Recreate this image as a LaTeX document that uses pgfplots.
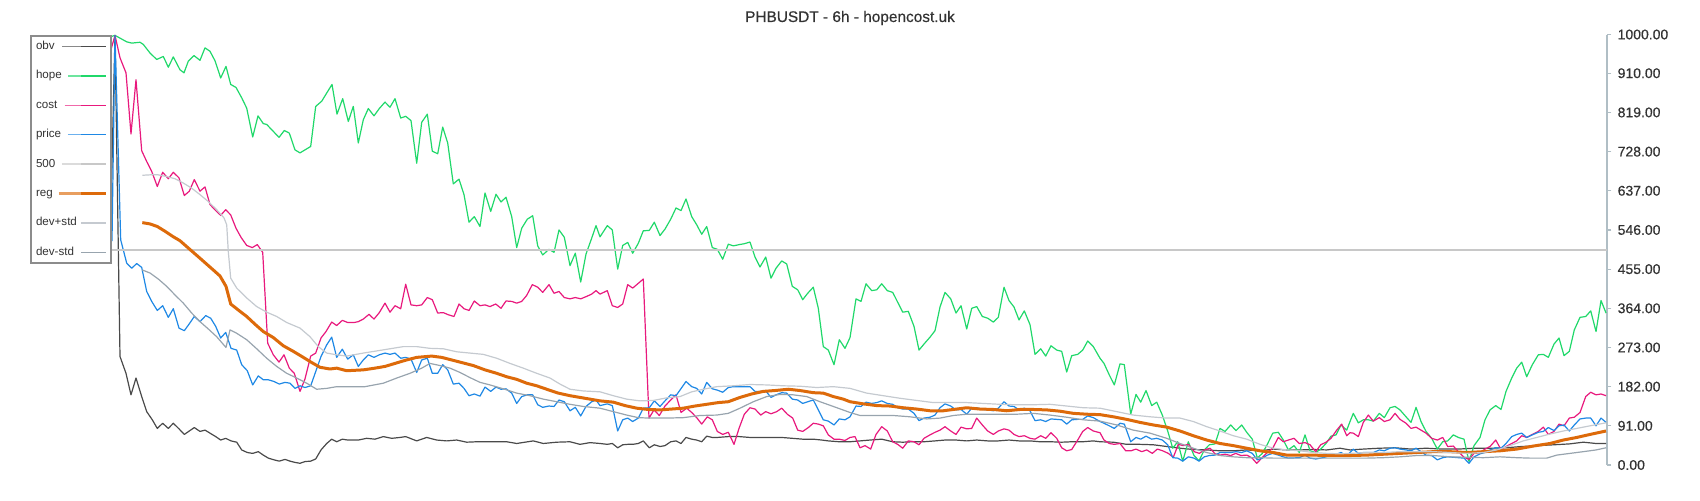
\documentclass[border=0pt]{standalone}
\usepackage{pgfplots}
\pgfplotsset{compat=1.18}
\usepackage{fontspec}
\setmainfont{Liberation Sans}
\newfontfamily\medfont[BoldFont=Liberation Sans, BoldFeatures={FakeBold=0.5}]{Liberation Sans}
\definecolor{cobv}{HTML}{4A4A4A}
\definecolor{chope}{HTML}{20D86A}
\definecolor{ccost}{HTML}{E8197D}
\definecolor{cprice}{HTML}{1E88E5}
\definecolor{cfive}{HTML}{C8C8C8}
\definecolor{creg}{HTML}{DD6A0A}
\definecolor{cdevp}{HTML}{C5CAD0}
\definecolor{cdevm}{HTML}{98A4AE}
\definecolor{caxis}{HTML}{B0BEC5}
\definecolor{ctext}{HTML}{333333}
\pgfplotsset{leg/.style={legend image code/.code={\path (0pt,0pt) -- (12.5pt,0pt);\draw[##1, draw opacity=0.65, overlay] (-#1,0pt) -- (10pt,0pt);}}}
\begin{document}
\begin{tikzpicture}
\path[use as bounding box] (-15pt,-17.5pt) rectangle (835pt,232.5pt);
\begin{axis}[
  at={(0,0)}, anchor=south west,
  scale only axis, width=788.5pt, height=215.25pt,
  xmin=30, xmax=1607, ymin=0, ymax=1000,
  axis x line=none, axis y line=right,
  axis line style={-, color=caxis, line width=0.75pt},
  ytick={0,91,182,273,364,455,546,637,728,819,910,1000},
  scaled y ticks=false,
  tick align=outside, major tick length=2.2pt,
  ytick style={color=caxis, line width=0.6pt},
  yticklabel={\pgfmathprintnumber[fixed,fixed zerofill,precision=2,1000 sep={},assume math mode=true]{\tick}},
  yticklabel style={font=\medfont\bfseries\fontsize{7}{8}\selectfont, text=ctext, anchor=west, xshift=-0.4pt},
  legend plot pos=right,
  legend cell align=left,
  legend style={at={(rel axis cs:0,1)}, anchor=north west, draw=black!45, line width=1pt, fill=white,
    font=\fontsize{5.8}{6.5}\selectfont, text=ctext, inner sep=1.5pt, row sep=6.7pt, column sep=0.4pt,
    nodes={inner sep=1pt, text height=4.5pt, text depth=1.5pt}},
  every axis plot/.append style={line join=round},
]
\addplot[cobv, line width=0.6pt, leg=9.5pt] coordinates {
(111,600)(115,998)(120,252)(126,213)(131,163)(136,202)(141.7,159)(146.7,124)(152.3,105)(157.3,85)(162.7,97)(168.3,85)(173.3,97)(179,84)(184.3,71)(189.3,79)(194.3,87)(200,78)(205,81)(210,74)(215.7,66)(220.7,58)(225.7,62)(231,56)(236.7,53)(241.7,35)(247.3,29)(252.7,27)(258.3,31)(263.3,23)(268.3,16)(274,12)(279.3,9)(285,13)(290,9)(295,6)(300,4)(305,8)(310.7,9)(315.7,14)(321,35)(326.7,50)(331.7,60)(336.7,54)(342.3,60)(347.7,58)
(358.3,58)(366.7,62)(375,60)(383.3,66)(391.7,62)(400,64)(405.7,66)(416.7,56)(426.7,64)(436.7,58)(446.7,56)(456.7,58)(466.7,53)(476.7,54)(486.7,54)(496.7,54)(506.7,54)(516.7,50)(533.3,56)(543.3,50)(556.7,53)(570,54)(580,48)(590,52)(600,50)
(607.3,48)(612.3,50)(617.7,40)(622.7,47)(627.7,48)(632.7,48)(638.3,50)(643.3,56)(649.3,40)(654.3,47)(660,43)(665,45)(670.7,54)(676,56)(681,50)(686,64)(691.7,60)(696.7,58)(701.7,54)(706.7,67)(712.3,64)(717.3,64)(728.3,66)(739.3,66)(750,64)(760,64)(771,64)(781.7,64)(792.3,62)(802.7,60)(813.3,60)(821.7,58)(828.3,56)(839.3,54)(850,54)
(860,56)(870,58)(881.7,60)(892.7,54)(902.7,53)(913.3,54)(924,54)(935,56)(945,58)(956,58)(966.7,56)(976.7,58)(987.7,56)(998.3,56)(1009,58)(1019,56)(1030,56)(1040,54)(1051,54)(1061.7,53)(1071.7,54)(1082.7,54)(1093.3,56)(1100,54)
(1113.3,53)(1126.7,48)(1140,48)(1153.3,47)(1166.7,43)(1180,39)(1193.3,36)(1206.7,35)(1220,33)(1233.3,33)(1246.7,35)(1260,33)(1273.3,37)(1286.7,35)(1300,35)(1313.3,36)(1326.7,35)(1340,39)(1350,35)
(1363.3,37)(1379.3,39)(1395,40)(1411,37)(1426,39)(1442.7,37)(1458.3,37)(1474,39)(1490,39)(1506,40)(1521.7,43)(1538.3,45)(1554,47)(1569.3,49)(1583.3,53)(1596,50)(1606,50)
};
\addlegendentry{obv}
\addplot[chope, line width=0.6pt, leg=6.5pt] coordinates {
(111,995)(115,998)(126.7,983)(131.7,980)(140,982)(143.3,977)(150,957)(156.7,942)(163.3,949)(168.3,924)(173.3,948)(180,918)(184,911)(188.3,938)(194,951)(200,940)(205,969)(210,961)(215,939)(220.7,899)(226,926)(230.7,884)(236,877)(241.7,853)(246.7,829)(252.7,762)(258,811)(263.3,793)(266.7,791)(273.3,775)(279,761)(284.3,777)(289.3,771)(295,732)(300,725)(305,732)(310.7,740)(315.7,833)(321.7,845)(326.7,864)(332,884)(337,815)(342.7,851)(348.3,798)
(353.3,833)(358.3,748)(363.3,802)(368.3,828)(374,811)(379.3,828)(385,843)(390,831)(395,851)(400.7,806)(405.7,810)(411,800)(416.7,701)(421.7,796)(427.3,815)(432.3,729)(437.7,723)(442.7,785)(447.7,748)(453.3,653)(459,664)(464,628)(469,564)(474.3,577)(480,554)(485,632)(490.7,589)(496,629)(501,611)(506,622)(511.7,577)(516.7,505)(521.7,550)(527.3,571)(532.7,579)(537.7,509)(542.7,488)(549,501)(554,494)(559,546)(564.3,529)(570,463)(575.3,492)(580.7,425)(586,490)(591.7,527)(596,556)(600,530)
(607.3,556)(612.3,546)(617.7,455)(622.7,510)(627.7,517)(632.7,492)(638.3,515)(643.3,544)(649.3,545)(654.3,564)(660,533)(665,548)(670.7,571)(676,597)(681,591)(686,618)(691.7,577)(696.7,558)(701.7,536)(706.7,554)(712.3,505)(717.3,501)(722.7,478)(728.3,513)(733.3,509)(739.3,512)(744.3,514)(750,518)(755,483)(760,460)(765.7,483)(771,434)(776,457)(781.7,474)(786.7,467)(792.3,415)(797.7,407)(802.7,384)(807.7,399)(813.3,413)(818.3,364)(823.3,275)(828.3,267)(834,233)(839.3,291)(845,271)(850,296)
(856,386)(861,380)(866,421)(871.7,405)(876.7,407)(881.7,421)(887.3,405)(892.7,401)(897.7,378)(902.7,355)(908.3,357)(914,322)(919,267)(924,281)(930,297)(935,312)(940,367)(945,401)(950.7,386)(956,353)(961,370)(966.7,316)(971.7,364)(976.7,368)(982.3,345)(987.7,341)(993.3,332)(998.3,343)(1004,413)(1009,382)(1014,367)(1019,337)(1024.3,358)(1030,326)(1035,257)(1040.7,270)(1045.7,253)(1051,277)(1056.7,267)(1061.7,264)(1066.7,216)(1071.7,254)(1077.7,257)(1082.7,267)(1087.7,288)(1093.3,275)(1100,248)
(1104,236)(1109.3,209)(1114.3,186)(1120,235)(1124.3,233)(1130.7,118)(1136,164)(1140.7,146)(1146,173)(1151.7,138)(1156.7,146)(1162.3,116)(1167.7,79)(1172.7,39)(1177.7,54)(1182.7,9)(1188.3,54)(1194,22)(1199,10)(1204.3,35)(1209.3,47)(1215,49)(1220,85)(1225,78)(1230.7,93)(1236,80)(1241.7,93)(1246.7,76)(1252.3,60)(1257.3,16)(1262.3,27)(1267.3,48)(1272.7,74)(1278.3,76)(1283.3,58)(1288.3,35)(1294,45)(1299.3,29)(1305,70)(1310,33)(1315.7,29)(1320.7,37)(1326,50)(1331,67)(1336,70)(1341,93)(1346.7,81)(1350,101)
(1353.3,120)(1358.3,98)(1363.3,105)(1368.3,105)(1373.3,102)(1379.3,120)(1384.3,110)(1390,133)(1395,136)(1400,128)(1406,112)(1411,99)(1416,134)(1421,101)(1426,78)(1431.7,62)(1437.3,37)(1442.7,54)(1447.7,56)(1453.3,70)(1458.3,64)(1464,60)(1469,8)(1474,45)(1480,64)(1485,105)(1490,128)(1495.7,138)(1501,129)(1506,171)(1511.7,202)(1516.7,225)(1521.7,239)(1526.7,205)(1532.3,233)(1538.3,256)(1543.3,257)(1548.3,250)(1554,281)(1559,295)(1564,254)(1569.3,264)(1574.3,314)(1580,343)(1585.7,345)(1590.7,358)(1596,310)(1601,382)(1606,353)
};
\addlegendentry{hope}
\addplot[ccost, line width=0.6pt, leg=8.3pt] coordinates {
(111,965)(115,998)(120,946)(126,911)(131,769)(136,895)(141.7,730)(146.7,705)(151.7,682)(157.3,647)(162.7,680)(168.3,665)(173.3,680)(179,667)(184.3,626)(189.3,636)(194.3,663)(200,636)(205,646)(210,605)(215.7,591)(220.7,580)(225.7,593)(230.7,581)(236,550)(241,529)(246.7,510)(252.3,505)(257.3,512)(262.7,494)(267.7,283)(273.3,256)(279,239)(284,256)(289.3,225)(294.3,213)(300,171)(305,200)(310.7,253)(315.7,260)(321,295)(326,310)(331.7,332)(336.7,324)(342.3,336)(347.7,331)
(354,331)(358.3,333)(363.3,339)(369,350)(374,339)(379.3,354)(385,376)(390,355)(395,370)(400.7,363)(405.7,420)(411,372)(416.7,370)(421.7,372)(427.3,389)(432.3,384)(437.7,353)(443.3,354)(448.3,349)(454,345)(459,374)(464,363)(469,359)(474.3,381)(480,370)(485,372)(490,368)(495.7,374)(501,364)(506,381)(511.7,380)(516.7,376)(521.7,380)(526.7,394)(532.3,419)(537.7,413)(542.7,401)(549,419)(554,399)(559,403)(564.3,389)(570,386)(575.3,389)(580.7,386)(586,391)(591.7,397)(596,405)(600,397)
(607.3,405)(612.3,370)(617.7,366)(622.7,374)(627.7,419)(632.7,411)(638.3,422)(643.3,432)(649,109)(654,128)(659.3,115)(665,137)(670.7,151)(676,163)(681,122)(686.7,132)(691.7,122)(696.7,110)(701.7,95)(707.3,112)(712.3,105)(717.3,78)(722.7,71)(728.3,76)(734,48)(739,85)(744.3,118)(750,133)(755,130)(760.7,116)(765.7,124)(771,119)(776.7,124)(781.7,132)(787.3,118)(792.7,109)(797.7,81)(802.7,78)(808.3,87)(813.3,97)(818.3,95)(823.3,91)(828.3,70)(834,60)(839.3,60)(845,57)(850,64)
(855,66)(860,40)(865,45)(870.7,37)(876,71)(881.7,89)(887.3,79)(892.7,54)(897.7,48)(902.7,39)(908.3,56)(914,54)(919,47)(924,62)(930,70)(935,76)(940,81)(945,89)(950.7,79)(956,71)(961,88)(966.7,84)(971.7,85)(976.7,109)(982.3,93)(987.7,79)(993.3,71)(998.3,79)(1004,84)(1009,81)(1014,71)(1019,66)(1024.3,68)(1030,62)(1035,60)(1040.7,68)(1045.7,62)(1051,75)(1056.7,62)(1061.7,40)(1066.7,33)(1071.7,36)(1077.7,58)(1082.7,78)(1087.7,87)(1093.3,79)(1100,75)
(1104,58)(1109.3,50)(1114.3,48)(1120,50)(1125.7,33)(1131,33)(1136,37)(1141.7,31)(1146.7,35)(1152.3,27)(1157.3,37)(1162.7,33)(1168.3,27)(1173.3,18)(1178.3,48)(1183.3,45)(1188.3,48)(1194.3,31)(1199.3,27)(1204.3,35)(1210,39)(1215,26)(1220,23)(1225,25)(1230.7,22)(1235.7,27)(1241,22)(1246.7,23)(1251.7,17)(1256.7,4)(1261.7,16)(1267.3,29)(1272.7,39)(1278.3,64)(1283.3,54)(1288.3,58)(1294,62)(1299.3,50)(1305,52)(1310,47)(1315.7,31)(1320.7,47)(1326,53)(1331,62)(1336.7,81)(1341.7,95)(1346.7,68)(1350,75)
(1353.3,74)(1358.3,66)(1363.3,99)(1368.3,116)(1373.3,102)(1379.3,110)(1384.3,101)(1390,105)(1395,120)(1400,106)(1406,97)(1411,85)(1416,88)(1421,81)(1426,74)(1431.7,62)(1437.3,58)(1442.7,64)(1447.7,43)(1453.3,44)(1458.3,31)(1464,18)(1469,13)(1474,27)(1480,29)(1485,37)(1490,43)(1495.7,58)(1501,36)(1506,43)(1511.7,50)(1516.7,56)(1521.7,68)(1526.7,64)(1532.3,71)(1538.3,78)(1543.3,88)(1548.3,71)(1554,78)(1559,95)(1564,91)(1569.3,109)(1574.3,111)(1580,122)(1585.7,159)(1590.7,169)(1596,163)(1601,165)(1606,161)
};
\addlegendentry{cost}
\addplot[cprice, line width=0.6pt, leg=6.7pt] coordinates {
(112,520)(115,998)(120.7,523)(126.7,469)(131.7,457)(136.7,468)(141.7,459)(146.7,403)(151.7,380)(157.3,359)(162.7,370)(168.3,343)(173.3,363)(179,318)(184.3,312)(189.3,328)(194.3,345)(200,333)(205.7,347)(210.7,341)(215.7,322)(220.7,295)(225.7,308)(231,271)(236.7,267)(241.7,233)(247.3,219)(252.7,186)(258.3,207)(263.3,198)(268.3,198)(274,194)(279.3,188)(285,192)(290,190)(295,178)(300,184)(305,180)(310.7,184)(315.7,217)(321,252)(326.7,279)(331.7,297)(336.7,250)(342.3,269)(347.7,246)
(353.3,256)(358.3,229)(363.3,244)(368.3,256)(374,250)(379.3,256)(385,260)(390,257)(395,260)(400.7,248)(405.7,250)(411,246)(416.7,215)(421.7,244)(427.3,248)(432.3,213)(437.7,213)(442.7,233)(447.7,221)(453.3,188)(459,190)(464,178)(469,161)(474.3,165)(480,160)(485,181)(490.7,171)(496,181)(501,176)(506,177)(511.7,167)(516.7,143)(521.7,159)(527.3,163)(532.7,163)(537.7,140)(542.7,134)(549,137)(554,136)(559,151)(564.3,147)(570,126)(575.3,134)(580.7,114)(586,136)(591.7,147)(596,151)(600,138)
(607.3,142)(612.3,138)(617.7,79)(622.7,105)(627.7,109)(632.7,101)(638.3,109)(643.3,132)(649.3,133)(654.3,149)(660,136)(665,149)(670.7,163)(676,161)(686,194)(691.7,182)(696.7,178)(701.7,165)(706.7,192)(712.3,177)(717.3,174)(722.7,169)(728.3,180)(733.3,182)(744.3,182)(750,182)(755,171)(760,171)(765.7,172)(771,157)(776,163)(781.7,168)(786.7,167)(792.3,153)(797.7,151)(802.7,143)(807.7,147)(813.3,151)(818.3,128)(823.3,105)(828.3,102)(834,93)(839.3,107)(845,105)(850,112)
(856,137)(861,136)(866,146)(871.7,143)(876.7,145)(881.7,149)(887.3,143)(892.7,141)(897.7,133)(902.7,130)(908.3,130)(914,120)(919,103)(924,109)(930,111)(935,116)(940,133)(945,142)(950.7,137)(956,128)(961,129)(966.7,118)(971.7,132)(976.7,133)(982.3,129)(987.7,128)(993.3,126)(998.3,132)(1004,147)(1009,137)(1014,136)(1019,128)(1024.3,132)(1030,126)(1035,103)(1040.7,105)(1045.7,101)(1051,107)(1056.7,106)(1061.7,105)(1066.7,95)(1071.7,105)(1077.7,106)(1082.7,106)(1087.7,114)(1093.3,110)(1100,101)
(1104,97)(1109.3,91)(1114.3,85)(1120,97)(1124.3,95)(1130.7,54)(1136,64)(1140.7,60)(1146,67)(1151.7,60)(1156.7,62)(1162.3,58)(1167.7,47)(1172.7,17)(1177.7,16)(1182.7,9)(1188.3,19)(1194,16)(1199,9)(1204.3,19)(1209.3,22)(1215,23)(1220,29)(1230.7,29)(1236,31)(1241.7,29)(1246.7,33)(1252.3,27)(1257.3,12)(1262.3,16)(1267.3,23)(1272.7,27)(1278.3,23)(1283.3,19)(1288.3,16)(1299.3,17)(1305,23)(1310,16)(1315.7,14)(1320.7,16)(1326,19)(1331,23)(1336,25)(1341,29)(1346.7,22)(1350,29)
(1353.3,37)(1358.3,27)(1363.3,29)(1368.3,29)(1373.3,29)(1379.3,35)(1384.3,33)(1390,39)(1395,40)(1400,37)(1406,35)(1411,33)(1416,39)(1421,31)(1426,23)(1431.7,22)(1437.3,12)(1442.7,17)(1447.7,19)(1453.3,18)(1458.3,17)(1464,16)(1469,4)(1474,19)(1480,26)(1485,29)(1490,35)(1495.7,40)(1501,39)(1506,50)(1511.7,66)(1516.7,71)(1521.7,74)(1526.7,64)(1532.3,70)(1538.3,76)(1543.3,78)(1548.3,87)(1554,80)(1559,91)(1564,93)(1569.3,79)(1574.3,93)(1580,107)(1585.7,109)(1590.7,109)(1596,91)(1601,109)(1606,99)
};
\addlegendentry{price}
\addplot[cfive, line width=1pt, leg=9.7pt] coordinates {(30,500)(1607,500)};
\addlegendentry{500}
\addplot[creg, line width=1.5pt, leg=11.3pt] coordinates {
(142.3,563)(150,560)(157.3,554)(165,543)(172.7,531)(180,521)(188.3,504)(196.7,487)(205,470)(213.3,453)(220,439)(226,415)(230.7,374)(238.3,360)(246.7,345)(255,327)(263.3,310)(273.3,296)(283.3,277)(293.3,264)(303.3,250)(311.7,238)(320,227)(330,223)(336.7,225)(346.7,219)
(363.3,221)(375,225)(385,229)(395,236)(405,243)(416.7,250)(431.7,253)(441.7,250)(451.7,244)(461.7,238)(473.3,231)(485,221)(496.7,213)(506.7,205)(516.7,199)(526.7,190)(536.7,184)(546.7,176)(558.3,167)(570,161)(580,157)(590,153)(600,149)
(613.3,146)(625,138)(636.7,132)(648.3,129)(660,128)(671.7,130)(683.3,132)(695,137)(706.7,141)(718.3,145)(728.3,147)(740,157)(751.7,165)(763.3,171)(775,173)(788.3,176)(800,173)(813.3,168)(823.3,167)(833.3,159)(843.3,153)(850,147)
(863.3,142)(876.7,138)(890,137)(903.3,133)(916.7,130)(930,126)(943.3,126)(956.7,130)(966.7,133)(980,130)(993.3,129)(1006.7,126)(1020,129)(1033.3,129)(1046.7,128)(1060,125)(1073.3,120)(1086.7,118)(1100,117)
(1113.3,112)(1126.7,106)(1140,99)(1153.3,93)(1166.7,88)(1180,79)(1193.3,68)(1206.7,58)(1220,50)(1233.3,45)(1246.7,39)(1260,33)(1273.3,29)(1286.7,23)(1300,23)(1313.3,23)(1326.7,22)(1340,22)(1350,22)
(1366.7,23)(1383.3,25)(1400,27)(1416.7,29)(1433.3,31)(1450,31)(1466.7,29)(1483.3,31)(1500,33)(1516.7,37)(1533.3,44)(1550,50)(1563.3,58)(1576.7,64)(1590,71)(1606,79)
};
\addlegendentry{reg}
\addplot[cdevp, line width=0.6pt, leg=0pt] coordinates {
(142.3,673)(150,674)(158.3,674)(166.7,670)(175,665)(183.3,655)(191.7,643)(200,628)(208.3,612)(216.7,593)(224,574)(226.7,558)(228.3,496)(230.7,434)(236.7,411)(246.7,388)(256.7,368)(266.7,355)(276.7,345)(286.7,331)(300,318)(310,298)(318.3,275)(326.7,260)(336.7,256)(346.7,253)
(363.3,260)(376.7,265)(390,270)(403.3,275)(416.7,275)(430,271)(443.3,270)(456.7,263)(470,260)(483.3,257)(496.7,248)(510,236)(523.3,225)(536.7,213)(550,202)(560,188)(570,176)(583.3,172)(600,170)
(613.3,161)(626.7,153)(640,149)(653.3,150)(666.7,156)(680,159)(691.7,170)(703.3,176)(716.7,182)(733.3,184)(750,187)(766.7,186)(783.3,184)(800,183)(816.7,180)(833.3,182)(850,178)
(866.7,167)(883.3,161)(900,155)(916.7,150)(933.3,145)(950,145)(966.7,145)(983.3,143)(1000,141)(1016.7,140)(1033.3,140)(1050,141)(1066.7,137)(1083.3,133)(1100,132)
(1116.7,124)(1133.3,116)(1150,112)(1166.7,109)(1180,109)(1193.3,101)(1206.7,89)(1220,79)(1233.3,68)(1246.7,60)(1260,48)(1273.3,39)(1286.7,35)(1300,33)(1313.3,29)(1326.7,27)(1340,26)(1350,27)
(1366.7,29)(1383.3,29)(1400,31)(1416.7,31)(1433.3,31)(1450,29)(1466.7,27)(1483.3,29)(1496.7,35)(1510,45)(1523.3,56)(1536.7,64)(1550,72)(1563.3,79)(1576.7,85)(1590,91)(1606,98)
};
\addlegendentry{dev+std}
\addplot[cdevm, line width=0.6pt, leg=0pt] coordinates {
(142.3,453)(150,446)(158.3,432)(166.7,415)(175,395)(183.3,376)(191.7,353)(200,333)(208.3,316)(216.7,298)(226,273)(230,314)(236.7,306)(246.7,291)(256.7,270)(266.7,248)(276.7,229)(286.7,213)(296.7,202)(306.7,190)(316.7,176)(326.7,178)(336.7,182)(346.7,182)
(365,182)(383.3,190)(396.7,202)(410,213)(421.7,225)(430,236)(440,231)(450,225)(460,215)(470,203)(480,192)(490,186)(503.3,177)(516.7,167)(530,161)(543.3,153)(556.7,147)(570,141)(583.3,136)(600,132)
(613.3,124)(626.7,116)(638.3,110)(649.3,109)(666.7,109)(683.3,110)(700,115)(716.7,116)(728.3,120)(740,132)(753.3,147)(766.7,159)(780,164)(793.3,163)(806.7,159)(820,147)(833.3,136)(850,122)
(860,115)(876.7,115)(893.3,115)(910,112)(926.7,107)(940,109)(953.3,115)(966.7,118)(983.3,118)(1000,118)(1016.7,118)(1033.3,120)(1050,116)(1066.7,111)(1083.3,105)(1100,102)
(1116.7,93)(1133.3,81)(1150,74)(1166.7,62)(1180,50)(1193.3,39)(1206.7,29)(1220,22)(1233.3,19)(1246.7,17)(1260,17)(1273.3,16)(1290,16)(1310,16)(1330,16)(1350,16)
(1366.7,16)(1383.3,17)(1400,19)(1416.7,22)(1433.3,22)(1450,19)(1466.7,18)(1483.3,17)(1500,19)(1516.7,17)(1530,16)(1546.7,16)(1556.7,23)(1570,27)(1583.3,31)(1596,35)(1606,40)
};
\addlegendentry{dev-std}
\end{axis}
\node[font=\medfont\bfseries\fontsize{7.7}{9}\selectfont, text=ctext] at (410pt,223.5pt) {PHBUSDT - 6h - hopencost.uk};
\end{tikzpicture}
\end{document}
